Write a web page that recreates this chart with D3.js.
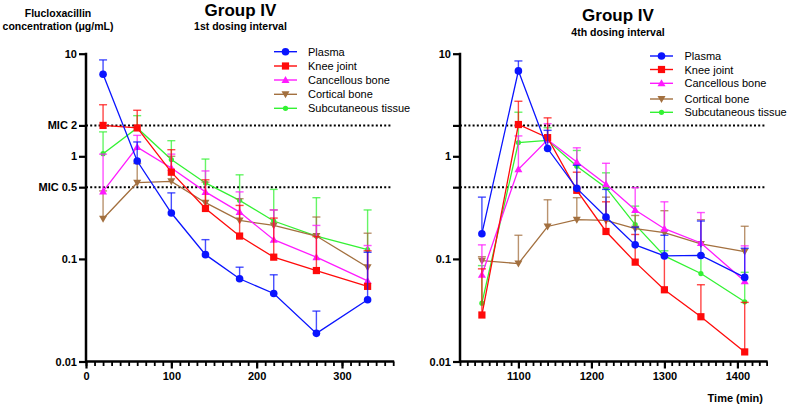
<!DOCTYPE html>
<html><head><meta charset="utf-8">
<script src="https://cdn.jsdelivr.net/npm/d3@7"></script>
<style>body{margin:0;background:#fff}svg{display:block}text{font-family:"Liberation Sans",Arial,sans-serif}</style>
</head><body><svg id="c" width="787" height="407"></svg>
<script>
// ---- data ----
const seriesNames = ["Plasma","Knee joint","Cancellous bone","Cortical bone","Subcutaneous tissue"];
const times1 = [20,60,100,140,180,220,270,330];
const plasma1 = [6.3,0.90,0.28,0.11,0.064,0.046,0.0188,0.040];
const plasma1Top = [8.7,1.38,0.44,0.154,0.083,0.070,0.031,0.116];
const knee1 = [2.0,1.89,0.70,0.31,0.167,0.104,0.077,0.054];
const knee1Top = [3.18,2.81,1.16,0.59,0.332,0.25,0.165,0.12];
const canc1 = [0.455,1.23,0.77,0.45,0.286,0.154,0.104,0.061];
const canc1Top = [1.05,1.6,1.05,0.72,0.45,0.30,0.212,0.135];
const cort1 = [0.246,0.553,0.57,0.353,0.237,0.212,0.167,0.083];
const cort1Top = [0.46,0.85,1.0,0.56,0.386,0.30,0.256,0.178];
const subc1 = [1.06,1.89,0.93,0.55,0.372,0.234,0.167,0.123];
const subc1Top = [1.73,2.49,1.42,0.94,0.66,0.476,0.395,0.30];

const times4 = [1050,1100,1140,1180,1220,1260,1300,1350,1410];
const plasma4 = [0.176,6.8,1.19,0.487,0.256,0.137,0.107,0.108,0.066];
const plasma4Top = [0.40,8.5,1.79,0.817,0.476,0.204,0.17,0.234,0.127];
const knee4 = [0.0284,2.04,1.52,0.466,0.185,0.093,0.050,0.0273,0.0124];
const knee4Top = [0.08,3.44,2.37,0.7,0.36,0.173,0.108,0.056,0.0377];
const canc4 = [0.070,0.747,1.45,0.88,0.533,0.30,0.197,0.143,0.0605];
const canc4Top = [0.137,1.58,2.08,1.21,0.855,0.495,0.36,0.283,0.134];
const cort4 = [0.096,0.090,0.207,0.241,0.237,0.197,0.18,0.14,0.118];
const cort4Top = [0.105,0.17,0.377,0.395,0.40,0.265,0.295,0.241,0.208];
const subc4 = [0.037,1.36,1.43,0.80,0.495,0.216,0.107,0.072,0.0382];
const subc4Top = [0.086,2.69,1.9,1.14,0.69,0.327,0.12,0.11,0.074];

const yTicks = [10,2,1,0.5,0.1,0.01];
const yTickLabelsLeft = ["10","MIC 2","1","MIC 0.5","0.1","0.01"];
const yTickLabelsRight = ["10","","1","","0.1","0.01"];
const micLevels = [2,0.5];
const xTicksLeft = [0,100,200,300];
const xTicksRight = [1100,1200,1300,1400];

// ---- styles ----
const colors = ["#0a14ff","#ff0a0a","#ff1aff","#a3703f","#33f233"];
const shapes = ["circle","square","triangle","triangleDown","dot"];

const svg = d3.select("#c");

function marker(g, shape, x, y, color) {
  if (shape === "circle") g.append("circle").attr("cx",x).attr("cy",y).attr("r",3.8).attr("fill",color);
  else if (shape === "dot") g.append("circle").attr("cx",x).attr("cy",y).attr("r",2.6).attr("fill",color);
  else if (shape === "square") g.append("rect").attr("x",x-3.6).attr("y",y-3.6).attr("width",7.2).attr("height",7.2).attr("fill",color);
  else if (shape === "triangle") g.append("path").attr("d",`M${x},${y-4}L${x+4},${y+3}L${x-4},${y+3}Z`).attr("fill",color);
  else if (shape === "triangleDown") g.append("path").attr("d",`M${x},${y+4}L${x+4},${y-3}L${x-4},${y-3}Z`).attr("fill",color);
}

function panel(opt) {
  const x = d3.scaleLinear().domain(opt.xDomain).range(opt.xRange);
  const y = d3.scaleLog().domain([0.01,10]).range([361.5,53.7]);
  const g = svg.append("g");

  // MIC dotted lines
  micLevels.forEach(m => {
    g.append("line").attr("x1",opt.xRange[0]).attr("x2",opt.dotEnd)
      .attr("y1",y(m)).attr("y2",y(m)).attr("stroke","#000").attr("stroke-width",2)
      .attr("stroke-dasharray","2,2.2");
  });

  // series (drawn in reverse so plasma is on top)
  for (let s = opt.series.length-1; s >= 0; s--) {
    const ser = opt.series[s];
    const col = colors[s];
    const sg = g.append("g");
    opt.times.forEach((t,i) => {
      const xx = x(t), y0 = y(ser.v[i]), y1 = y(ser.top[i]);
      sg.append("line").attr("x1",xx).attr("x2",xx).attr("y1",y0).attr("y2",y1)
        .attr("stroke",col).attr("stroke-width",1.4).attr("opacity",0.75);
      sg.append("line").attr("x1",xx-4).attr("x2",xx+4).attr("y1",y1).attr("y2",y1)
        .attr("stroke",col).attr("stroke-width",1.4).attr("opacity",0.75);
    });
    const line = d3.line().x((d,i)=>x(opt.times[i])).y(d=>y(d));
    sg.append("path").attr("d",line(ser.v)).attr("fill","none").attr("stroke",col).attr("stroke-width",1.3);
    opt.times.forEach((t,i) => marker(sg, shapes[s], x(t), y(ser.v[i]), col));
  }

  // y axis
  const yAxis = d3.axisLeft(y).tickValues(yTicks).tickSize(7).tickPadding(2)
    .tickFormat((d,i)=>opt.yLabels[i]);
  const ya = g.append("g").attr("transform",`translate(${opt.xRange[0]},0)`).call(yAxis);
  ya.select(".domain").attr("stroke","#000").attr("stroke-width",2.5).attr("d",`M0,${y(10)-1}V${y(0.01)+1}`);
  ya.selectAll(".tick line").attr("stroke","#000").attr("stroke-width",2.2);
  ya.selectAll(".tick text").attr("fill","#000").style("font-size","11px").style("font-weight","bold");

  // x axis: minor ticks every 10, majors labelled
  const minor = d3.range(opt.xDomain[0], opt.xDomain[1]+0.001, 10);
  const xAxisMinor = d3.axisBottom(x).tickValues(minor).tickSize(4.5).tickFormat("");
  const xm = g.append("g").attr("transform","translate(0,361.5)").call(xAxisMinor);
  xm.select(".domain").attr("stroke","#000").attr("stroke-width",2.5)
    .attr("d",`M${opt.xRange[0]-1},0H${opt.xRange[1]+1}`);
  xm.selectAll(".tick line").attr("stroke","#000").attr("stroke-width",1.8);
  const xAxis = d3.axisBottom(x).tickValues(opt.xTicks).tickSize(7).tickPadding(4).tickFormat(d3.format("d"));
  const xa = g.append("g").attr("transform","translate(0,361.5)").call(xAxis);
  xa.select(".domain").remove();
  xa.selectAll(".tick line").attr("stroke","#000").attr("stroke-width",2.2);
  xa.selectAll(".tick text").attr("fill","#000").style("font-size","11px").style("font-weight","bold");

  // titles
  g.append("text").attr("x",opt.titleX).attr("y",opt.titleY).attr("text-anchor","middle")
    .style("font-size","17px").style("font-weight","bold").text("Group IV");
  g.append("text").attr("x",opt.titleX).attr("y",opt.subY).attr("text-anchor","middle")
    .style("font-size","10.5px").style("font-weight","bold").text(opt.subtitle);

  // legend
  seriesNames.forEach((n,i) => {
    const ly = opt.legRows[i];
    const lg = g.append("g");
    lg.append("line").attr("x1",opt.legX[0]).attr("x2",opt.legX[1]).attr("y1",ly).attr("y2",ly)
      .attr("stroke",colors[i]).attr("stroke-width",1.4);
    marker(lg, shapes[i], (opt.legX[0]+opt.legX[1])/2, ly, colors[i]);
    lg.append("text").attr("x",opt.legText).attr("y",ly+4).style("font-size","11px").attr("fill","#000").text(n);
  });
}

panel({
  xDomain:[0,360], xRange:[86,393.2], dotEnd:392, xTicks:xTicksLeft, yLabels:yTickLabelsLeft,
  times:times1,
  series:[{v:plasma1,top:plasma1Top},{v:knee1,top:knee1Top},{v:canc1,top:canc1Top},{v:cort1,top:cort1Top},{v:subc1,top:subc1Top}],
  titleX:240.5, titleY:16, subY:29.5, subtitle:"1st dosing interval",
  legX:[274,297], legText:308, legRows:[51.7,66,80,94.3,108.3]
});
panel({
  xDomain:[1020,1440], xRange:[460,766.6], dotEnd:765, xTicks:xTicksRight, yLabels:yTickLabelsRight,
  times:times4,
  series:[{v:plasma4,top:plasma4Top},{v:knee4,top:knee4Top},{v:canc4,top:canc4Top},{v:cort4,top:cort4Top},{v:subc4,top:subc4Top}],
  titleX:618, titleY:20.5, subY:35.5, subtitle:"4th dosing interval",
  legX:[650,673], legText:684.5, legRows:[56,69.5,83.3,99,112.3]
});

// y axis title
svg.append("text").attr("x",58).attr("y",17.3).attr("text-anchor","middle")
  .style("font-size","10.5px").style("font-weight","bold").text("Flucloxacillin");
svg.append("text").attr("x",58).attr("y",30.3).attr("text-anchor","middle")
  .style("font-size","10.5px").style("font-weight","bold").text("concentration (μg/mL)");
// x axis title
svg.append("text").attr("x",763).attr("y",402).attr("text-anchor","end")
  .style("font-size","11px").style("font-weight","bold").text("Time (min)");
</script></body></html>
